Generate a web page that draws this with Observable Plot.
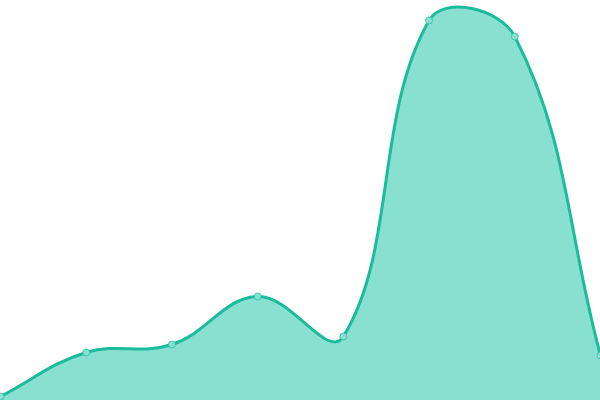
<!DOCTYPE html>
<html><head><meta charset="utf-8">
<script src="https://cdn.jsdelivr.net/npm/d3@7"></script>
<script src="https://cdn.jsdelivr.net/npm/@observablehq/plot@0.6"></script>
<style>html,body{margin:0;padding:0;background:#fff}svg{overflow:hidden;display:block}</style>
</head><body><div id="chart"></div>
<script>
const xs = [0, 1, 2, 3, 4, 5, 6, 7];
const values = [1, 12, 14, 26, 16, 95, 91, 11.25];
const data = xs.map((x, i) => ({x, v: values[i]}));

// Tension-based spline curve (distance-weighted control points), tension 0.4
function splineCurve(context) { return new Spline(context, 0.4); }
class Spline {
  constructor(ctx, t) { this._context = ctx; this._t = t; }
  areaStart() { this._line = 0; }
  areaEnd() { this._line = NaN; }
  lineStart() { this._pts = []; }
  point(x, y) { this._pts.push([+x, +y]); }
  lineEnd() {
    const p = this._pts, n = p.length, c = this._context, t = this._t;
    if (n) {
      if (this._line) c.lineTo(p[0][0], p[0][1]); else c.moveTo(p[0][0], p[0][1]);
      const cpPrev = [], cpNext = [];
      for (let i = 0; i < n; i++) {
        const cur = p[i], prev = p[i - 1] || cur, next = p[i + 1] || cur;
        const d01 = Math.hypot(cur[0] - prev[0], cur[1] - prev[1]);
        const d12 = Math.hypot(next[0] - cur[0], next[1] - cur[1]);
        let s01 = d01 / (d01 + d12), s12 = d12 / (d01 + d12);
        if (!isFinite(s01)) s01 = 0;
        if (!isFinite(s12)) s12 = 0;
        const fa = t * s01, fb = t * s12;
        cpPrev.push([cur[0] - fa * (next[0] - prev[0]), cur[1] - fa * (next[1] - prev[1])]);
        cpNext.push([cur[0] + fb * (next[0] - prev[0]), cur[1] + fb * (next[1] - prev[1])]);
      }
      for (let i = 1; i < n; i++) {
        c.bezierCurveTo(cpNext[i - 1][0], cpNext[i - 1][1], cpPrev[i][0], cpPrev[i][1], p[i][0], p[i][1]);
      }
    }
    if (this._line || (this._line !== 0 && n === 1)) c.closePath();
    this._line = 1 - this._line;
  }
}

const chart = Plot.plot({
  width: 600, height: 400,
  margin: 0,
  x: {domain: [0, 7], axis: null},
  y: {domain: [0, 100], axis: null},
  marks: [
    Plot.areaY(data, {x: "x", y: "v", curve: splineCurve, fill: "#8ae0d0"}),
    Plot.lineY(data, {x: "x", y: "v", curve: splineCurve, stroke: "#1abc9c", strokeWidth: 3}),
    Plot.dot(data, {x: "x", y: "v", r: 3.5, fill: "#8ae0d0", stroke: "#1abc9c", strokeOpacity: 0.7, strokeWidth: 1})
  ]
});
document.getElementById("chart").appendChild(chart);
</script></body></html>
